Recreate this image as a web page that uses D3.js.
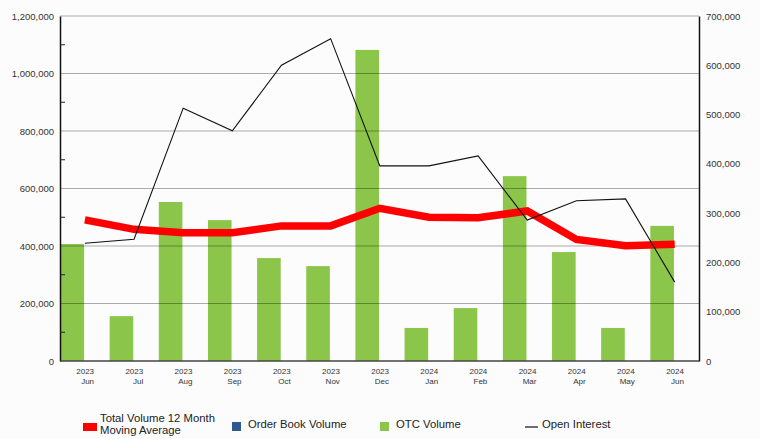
<!DOCTYPE html>
<html><head><meta charset="utf-8">
<script src="https://cdn.jsdelivr.net/npm/d3@7"></script>
<style>
html,body{margin:0;padding:0;background:#fcfcfc;}
svg{display:block;font-family:"Liberation Sans",Arial,sans-serif;}
</style></head>
<body>
<svg id="chart" width="760" height="439"></svg>
<script>
const years = ["2023","2023","2023","2023","2023","2023","2023","2024","2024","2024","2024","2024","2024"];
const months = ["Jun","Jul","Aug","Sep","Oct","Nov","Dec","Jan","Feb","Mar","Apr","May","Jun"];
const otcVolume = [407000,156000,553000,490000,358000,330000,1082000,115000,184000,643000,379000,115000,470000];
const orderBookVolume = [0,0,0,0,0,0,0,0,0,0,0,0,0];
const movingAverage = [491000,458000,446000,446000,470000,470000,531000,500000,498000,522000,423000,401000,406000];
const openInterest = [239000,247000,513000,467000,600000,654000,396000,396000,416000,286000,325000,329000,160000];
const leftTicks = [0,200000,400000,600000,800000,1000000,1200000];
const rightTicks = [0,100000,200000,300000,400000,500000,600000,700000];

const svg = d3.select("#chart");
const L = 60, R = 699, T = 16, B = 361;
const keys = d3.range(months.length);
const x = d3.scaleBand().domain(keys).range([L, R]).padding(0);
const sub = d3.scaleBand().domain(["otc","ob"]).range([0, x.bandwidth()]).paddingInner(0.04).paddingOuter(0.02);
const yL = d3.scaleLinear().domain([0,1200000]).range([B, T]);
const yR = d3.scaleLinear().domain([0,700000]).range([B, T]);
const fmt = d3.format(",");

// bars
svg.append("g").selectAll("rect.otc").data(otcVolume).join("rect")
  .attr("x",(d,i)=>x(i)+sub("otc")).attr("width",sub.bandwidth())
  .attr("y",d=>yL(d)).attr("height",d=>B-yL(d)).attr("fill","#8bc54a");
svg.append("g").selectAll("rect.ob").data(orderBookVolume).join("rect")
  .attr("x",(d,i)=>x(i)+sub("ob")).attr("width",sub.bandwidth())
  .attr("y",d=>yL(d)).attr("height",d=>B-yL(d)).attr("fill","#30598c");

// gridlines
svg.append("g").selectAll("line").data(leftTicks.filter(d=>d>0)).join("line")
  .attr("x1",L).attr("x2",R).attr("y1",d=>yL(d)).attr("y2",d=>yL(d))
  .attr("stroke","rgba(0,0,0,0.32)").attr("stroke-width",1.2);

// left axis
const gL = svg.append("g").attr("transform",`translate(${L},0)`)
  .call(d3.axisLeft(yL).tickValues(leftTicks).tickFormat(fmt).tickSize(0).tickPadding(6));
gL.select(".domain").attr("stroke","#111").attr("stroke-width",1.5);
gL.selectAll("text").attr("font-size","9.5px").attr("fill","#333").attr("font-family","Liberation Sans, Arial, sans-serif");
// minor ticks inward
svg.append("g").selectAll("line").data(d3.range(100000,1200000,200000)).join("line")
  .attr("x1",L).attr("x2",L+5).attr("y1",d=>yL(d)).attr("y2",d=>yL(d))
  .attr("stroke","#222").attr("stroke-width",1);

// right axis
const gR = svg.append("g").attr("transform",`translate(${R},0)`)
  .call(d3.axisRight(yR).tickValues(rightTicks).tickFormat(fmt).tickSize(0).tickPadding(7));
gR.select(".domain").attr("stroke","#111").attr("stroke-width",1.5);
gR.selectAll("text").attr("font-size","9.5px").attr("fill","#333").attr("font-family","Liberation Sans, Arial, sans-serif");

// bottom axis line
svg.append("line").attr("x1",L).attr("x2",R).attr("y1",B).attr("y2",B)
  .attr("stroke","#444").attr("stroke-width",1.6);

// x labels
const xl = svg.append("g").attr("font-size","8px").attr("fill","#333");
xl.selectAll("text.yr").data(keys).join("text")
  .attr("x",i=>x(i)+x.bandwidth()/2+9.5).attr("y",374).attr("text-anchor","end").text(i=>years[i]);
xl.selectAll("text.mo").data(keys).join("text")
  .attr("x",i=>x(i)+x.bandwidth()/2+9.5).attr("y",384).attr("text-anchor","end").text(i=>months[i]);

// lines
const cx = i => x(i)+x.bandwidth()/2+0.3;
svg.append("path").datum(movingAverage)
  .attr("d",d3.line().x((d,i)=>cx(i)).y(d=>yL(d)))
  .attr("fill","none").attr("stroke","#ff0000").attr("stroke-width",7.5).attr("stroke-linejoin","miter");
svg.append("path").datum(openInterest)
  .attr("d",d3.line().x((d,i)=>cx(i)).y(d=>yR(d)))
  .attr("fill","none").attr("stroke","#111").attr("stroke-width",1.1);

// legend
const lg = svg.append("g").attr("font-size","11.3px").attr("fill","#222");
lg.append("rect").attr("x",83).attr("y",423).attr("width",14).attr("height",8).attr("fill","#ff0000");
lg.append("text").attr("x",100).attr("y",422).text("Total Volume 12 Month");
lg.append("text").attr("x",100).attr("y",434).text("Moving Average");
lg.append("rect").attr("x",232).attr("y",422).attr("width",9).attr("height",9).attr("fill","#30598c");
lg.append("text").attr("x",248).attr("y",428).text("Order Book Volume");
lg.append("rect").attr("x",380).attr("y",422).attr("width",9).attr("height",9).attr("fill","#8bc54a");
lg.append("text").attr("x",396).attr("y",428).text("OTC Volume");
lg.append("line").attr("x1",525).attr("x2",538).attr("y1",427).attr("y2",427).attr("stroke","#111").attr("stroke-width",1.2);
lg.append("text").attr("x",542).attr("y",428).text("Open Interest");
</script>
</body></html>
